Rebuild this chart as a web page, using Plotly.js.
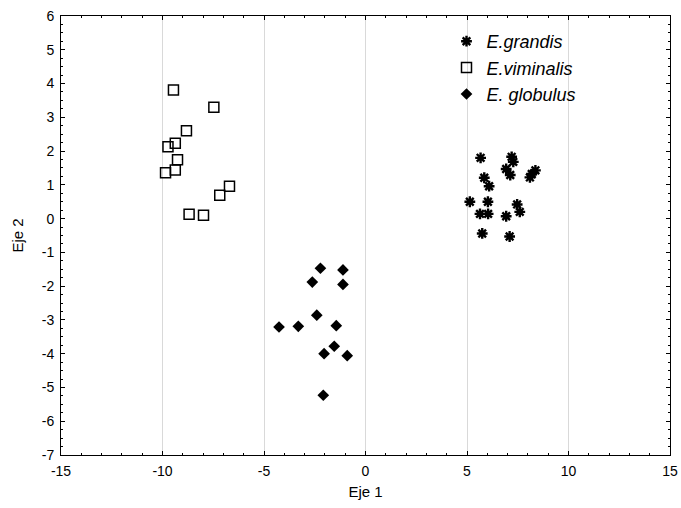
<!DOCTYPE html>
<html>
<head>
<meta charset="utf-8">
<script src="https://cdn.plot.ly/plotly-3.0.1.min.js"></script>
<style>html,body{margin:0;padding:0;background:#fff;}#chart{width:681px;height:508px;}</style>
</head>
<body>
<div id="chart"></div>
<script>
const grandisX = [5.67, 7.20, 7.28, 6.93, 7.13, 5.85, 6.09, 5.14, 6.03, 5.64, 6.04, 6.93, 5.75, 7.10, 8.37, 8.10, 8.19, 7.47, 7.60];
const grandisY = [1.80, 1.83, 1.68, 1.47, 1.29, 1.21, 0.96, 0.50, 0.50, 0.14, 0.14, 0.07, -0.44, -0.53, 1.43, 1.22, 1.32, 0.42, 0.20];
const viminalisX = [-9.46, -7.47, -8.82, -9.37, -9.73, -9.26, -9.37, -9.85, -6.70, -7.18, -8.69, -7.98];
const viminalisY = [3.81, 3.30, 2.60, 2.23, 2.13, 1.74, 1.44, 1.36, 0.96, 0.69, 0.13, 0.10];
const globulusX = [-2.22, -1.11, -2.62, -1.11, -2.40, -4.26, -3.31, -1.44, -1.54, -2.04, -0.90, -2.08];
const globulusY = [-1.47, -1.52, -1.88, -1.95, -2.86, -3.21, -3.19, -3.17, -3.78, -4.00, -4.06, -5.23];
const seriesNames = ["E.grandis", "E.viminalis", "E. globulus"];
const xTicks = [-15, -10, -5, 0, 5, 10, 15];
const yTicks = [6, 5, 4, 3, 2, 1, 0, -1, -2, -3, -4, -5, -6, -7];

const FONT = 'Liberation Sans, Arial, sans-serif';
const traces = [
  {x: grandisX, y: grandisY, name: seriesNames[0], type: 'scatter', mode: 'markers',
   marker: {symbol: 'asterisk-open', size: 9, color: '#000', line: {color: '#000', width: 2.4}}},
  {x: viminalisX, y: viminalisY, name: seriesNames[1], type: 'scatter', mode: 'markers',
   marker: {symbol: 'square-open', size: 10, color: '#000', line: {color: '#000', width: 1.5}}},
  {x: globulusX, y: globulusY, name: seriesNames[2], type: 'scatter', mode: 'markers',
   marker: {symbol: 'diamond', size: 9, color: '#000', line: {width: 0}}}
];

const axisCommon = {
  showline: true, linecolor: '#000', linewidth: 1, mirror: 'ticks',
  ticks: 'inside', ticklen: 4, tickcolor: '#000', tickwidth: 1,
  zeroline: false, tickfont: {family: FONT, size: 14, color: '#000'}
};

const layout = {
  width: 681, height: 508,
  margin: {l: 61, r: 11, t: 16, b: 53},
  paper_bgcolor: '#fff', plot_bgcolor: '#fff',
  font: {family: FONT, color: '#000'},
  showlegend: true,
  legend: {x: 0.633, y: 0.984, xanchor: 'left', yanchor: 'top', bgcolor: 'rgba(0,0,0,0)',
           font: {family: FONT, size: 18, style: 'italic', color: '#000'},
           tracegroupgap: 0},
  xaxis: Object.assign({}, axisCommon, {
    range: [-15, 15], tickmode: 'array', tickvals: xTicks, ticktext: xTicks.map(String),
    showgrid: true, gridcolor: '#d9d9d9', gridwidth: 1,
    ticklabelstandoff: 3,
    minor: {dtick: 1, ticks: 'inside', ticklen: 2, tickcolor: '#000', showgrid: false},
    title: {text: 'Eje 1', font: {size: 15, color: '#000'}, standoff: 8}
  }),
  yaxis: Object.assign({}, axisCommon, {
    range: [-7, 6], tickmode: 'array', tickvals: yTicks, ticktext: yTicks.map(String),
    showgrid: false,
    ticklabelstandoff: 3,
    minor: {dtick: 0.25, ticks: 'inside', ticklen: 2, tickcolor: '#000', showgrid: false},
    title: {text: 'Eje 2', font: {size: 15, color: '#000'}, standoff: 14}
  })
};

Plotly.newPlot('chart', traces, layout, {displayModeBar: false, staticPlot: true});
</script>
</body>
</html>
